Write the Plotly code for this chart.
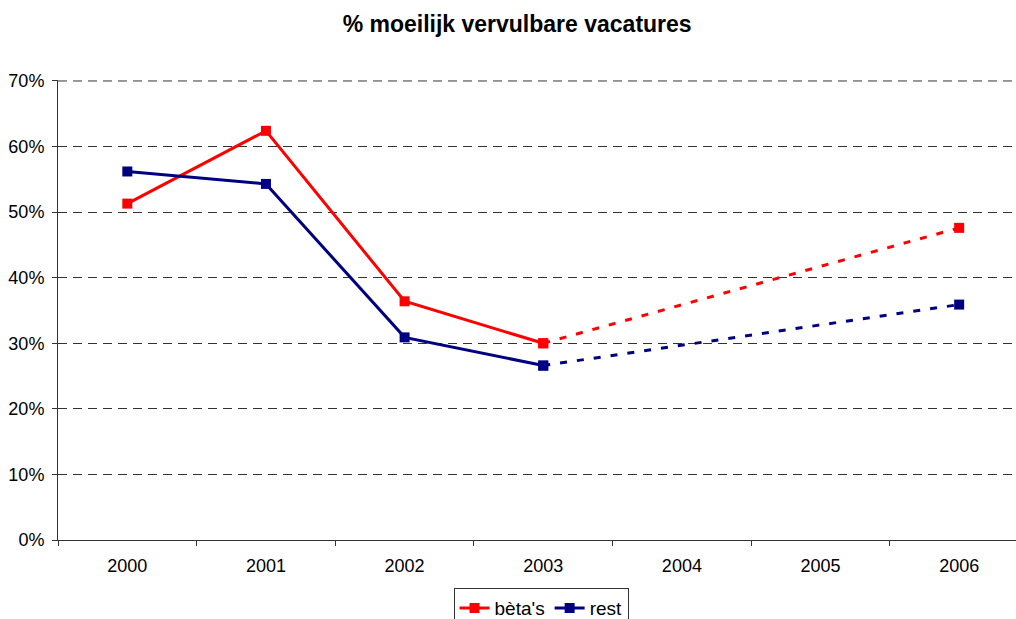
import plotly.graph_objects as go

years = ["2000", "2001", "2002", "2003", "2004", "2005", "2006"]
actual_years = ["2000", "2001", "2002", "2003"]
beta_actual = [0.513, 0.624, 0.364, 0.300]
rest_actual = [0.562, 0.543, 0.309, 0.266]
proj_years = ["2003", "2006"]
beta_proj = [0.300, 0.476]
rest_proj = [0.266, 0.359]
y_ticks = [0, 0.1, 0.2, 0.3, 0.4, 0.5, 0.6, 0.7]
y_labels = ["0%", "10%", "20%", "30%", "40%", "50%", "60%", "70%"]
y_top = y_ticks[-1]

RED = "#FF0000"
NAVY = "#000080"
FONT = "Liberation Sans, Arial, sans-serif"

fig = go.Figure()
fig.add_trace(go.Scatter(x=proj_years, y=beta_proj, mode="lines+markers", showlegend=False,
                         line=dict(color=RED, width=3, dash="7px,10px"),
                         marker=dict(symbol="square", size=10, color=RED)))
fig.add_trace(go.Scatter(x=proj_years, y=rest_proj, mode="lines+markers", showlegend=False,
                         line=dict(color=NAVY, width=3, dash="7px,10px"),
                         marker=dict(symbol="square", size=10, color=NAVY)))
fig.add_trace(go.Scatter(x=actual_years, y=beta_actual, mode="lines+markers", name="bèta's",
                         line=dict(color=RED, width=3),
                         marker=dict(symbol="square", size=10, color=RED)))
fig.add_trace(go.Scatter(x=actual_years, y=rest_actual, mode="lines+markers", name="rest",
                         line=dict(color=NAVY, width=3),
                         marker=dict(symbol="square", size=10, color=NAVY)))

# top gridline (plotly skips the gridline at the range edge)
fig.add_shape(type="line", xref="paper", yref="y", x0=0, x1=1, y0=y_top, y1=y_top,
              line=dict(color="#333333", width=1, dash="9px,6px"), layer="below")

fig.update_layout(
    width=1016, height=619,
    margin=dict(l=58, r=0, t=80, b=79, autoexpand=False),
    paper_bgcolor="white", plot_bgcolor="white",
    font=dict(family=FONT, size=18, color="black"),
    title=dict(text="<b>% moeilijk vervulbare vacatures</b>", x=0.509, xanchor="center",
               xref="container", yref="container",
               y=0.962, yanchor="middle", font=dict(size=23, family=FONT)),
    legend=dict(orientation="h", xref="container", yref="container",
                x=0.5325, xanchor="center", y=0.05, yanchor="top",
                bordercolor="#333333", borderwidth=1, font=dict(size=19),
                itemwidth=30, tracegroupgap=0),
)
fig.update_xaxes(type="category", categoryorder="array", categoryarray=years,
                 range=[-0.5, 6.41], tickson="boundaries", ticks="outside", ticklen=5,
                 tickcolor="#333333", showline=True, linecolor="#333333", linewidth=1,
                 showgrid=False, zeroline=False, tickfont=dict(size=18), automargin=False,
                 ticklabelstandoff=9)
fig.update_yaxes(range=[0, 0.7015], tickvals=y_ticks, ticktext=y_labels, ticks="outside",
                 ticklen=5, tickcolor="#333333", showline=True, linecolor="#333333",
                 linewidth=1, showgrid=True, gridcolor="#333333", gridwidth=1,
                 griddash="9px,6px", zeroline=False, tickfont=dict(size=18), automargin=False,
                 ticklabelstandoff=4)

fig.write_html("out.html", config={"displayModeBar": False},
               post_script="document.body.style.margin='0';document.body.style.overflow='hidden';")
